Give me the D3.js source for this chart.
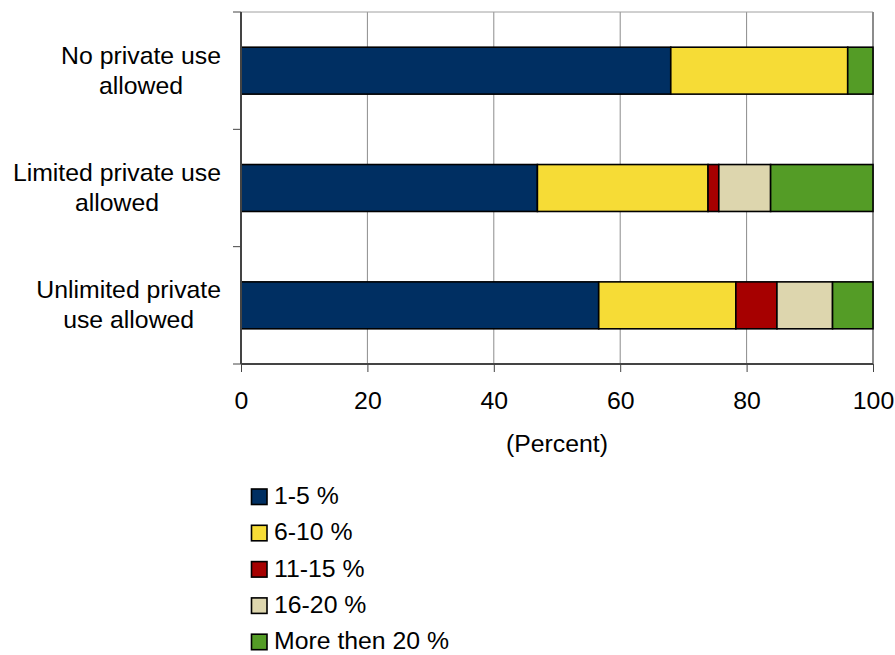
<!DOCTYPE html>
<html>
<head>
<meta charset="utf-8">
<script src="https://cdn.jsdelivr.net/npm/d3@7"></script>
<style>
  html, body { margin: 0; padding: 0; background: #fff; }
  svg { display: block; font-family: "Liberation Sans", Arial, sans-serif; }
</style>
</head>
<body>
<svg id="chart" width="895" height="655"></svg>
<script>
// ---- Data ----
const categories = ["No private use allowed", "Limited private use allowed", "Unlimited private use allowed"];
const categoryLines = [["No private use", "allowed"], ["Limited private use", "allowed"], ["Unlimited private", "use allowed"]];
const seriesNames = ["1-5 %", "6-10 %", "11-15 %", "16-20 %", "More then 20 %"];
const s1to5   = [68.0, 46.9, 56.6];
const s6to10  = [28.0, 27.0, 21.7];
const s11to15 = [0.0, 1.7, 6.5];
const s16to20 = [0.0, 8.2, 8.8];
const sOver20 = [4.0, 16.2, 6.4];
const xTicks = [0, 20, 40, 60, 80, 100];
const xTitle = "(Percent)";
const colors = ["#002f62", "#f6dc36", "#a60000", "#ddd6ae", "#549c26"];

const seriesValues = [s1to5, s6to10, s11to15, s16to20, sOver20];
const table = categories.map((c, i) => {
  const row = { category: c };
  seriesNames.forEach((s, j) => row[s] = seriesValues[j][i]);
  return row;
});

const FS = 24.8;
const svg = d3.select("#chart");
const plot = { left: 241, right: 873, top: 12, bottom: 364 };

const x = d3.scaleLinear().domain([0, 100]).range([plot.left, plot.right]);
const y = d3.scaleBand().domain(categories).range([plot.top, plot.bottom])
  .paddingInner(0.6).paddingOuter(0.3);

// gridlines
svg.append("g").selectAll("line").data(xTicks.filter(t => t > 0 && t < 100)).join("line")
  .attr("x1", d => x(d)).attr("x2", d => x(d))
  .attr("y1", plot.top).attr("y2", plot.bottom)
  .attr("stroke", "#8c8c8c").attr("stroke-width", 1);

// plot border top & right
svg.append("line").attr("x1", plot.left).attr("x2", plot.right)
  .attr("y1", plot.top).attr("y2", plot.top).attr("stroke", "#a0a0a0").attr("stroke-width", 1);
svg.append("line").attr("x1", plot.right).attr("x2", plot.right)
  .attr("y1", plot.top).attr("y2", plot.bottom).attr("stroke", "#8c8c8c").attr("stroke-width", 2);

// stacked bars
const stack = d3.stack().keys(seriesNames);
const stacked = stack(table);
svg.append("g").selectAll("g").data(stacked).join("g")
  .attr("fill", (d, i) => colors[i])
  .selectAll("rect").data(d => d.filter(v => v[1] - v[0] > 0)).join("rect")
  .attr("x", d => x(d[0]))
  .attr("width", d => x(d[1]) - x(d[0]))
  .attr("y", d => y(d.data.category))
  .attr("height", y.bandwidth())
  .attr("stroke", "#000").attr("stroke-width", 1.6);

// x axis
const xAxis = d3.axisBottom(x).tickValues(xTicks).tickSize(8).tickPadding(19).tickFormat(d3.format("d"));
const gx = svg.append("g").attr("transform", `translate(0,${plot.bottom})`).call(xAxis);
gx.select(".domain").attr("stroke", "#444").attr("stroke-width", 2).attr("d", `M${plot.left},0H${plot.right}`);
gx.selectAll(".tick line").attr("stroke", "#444").attr("stroke-width", 1);
gx.selectAll(".tick text").attr("font-size", FS).attr("fill", "#000")
  .attr("font-family", '"Liberation Sans", Arial, sans-serif');

// y axis line and boundary ticks
const gy = svg.append("g");
gy.append("line").attr("x1", plot.left).attr("x2", plot.left)
  .attr("y1", plot.top).attr("y2", plot.bottom).attr("stroke", "#444").attr("stroke-width", 2);
const boundaries = d3.range(categories.length + 1).map(i => plot.top + i * y.step());
gy.selectAll("line.tk").data(boundaries).join("line").attr("class", "tk")
  .attr("x1", plot.left - 8).attr("x2", plot.left)
  .attr("y1", d => d).attr("y2", d => d)
  .attr("stroke", "#444").attr("stroke-width", 1);

// category labels
const labelRight = plot.left - 20;
categories.forEach((c, i) => {
  const cy = y(c) + y.bandwidth() / 2;
  const lines = categoryLines[i];
  const g = svg.append("g");
  const texts = lines.map((ln, k) => g.append("text")
    .attr("y", cy - 7 + k * 30)
    .attr("font-size", FS).attr("fill", "#000")
    .attr("text-anchor", "middle").text(ln));
  const maxW = d3.max(texts, t => t.node().getComputedTextLength());
  texts.forEach(t => t.attr("x", labelRight - maxW / 2));
});

// x title
svg.append("text").attr("x", (plot.left + plot.right) / 2).attr("y", 452)
  .attr("text-anchor", "middle").attr("font-size", FS).attr("fill", "#000").text(xTitle);

// legend
const lg = svg.append("g");
seriesNames.forEach((s, i) => {
  const base = 504 + i * 36.3;
  lg.append("rect").attr("x", 251.5).attr("y", base - 15).attr("width", 15.5).attr("height", 15.5)
    .attr("fill", colors[i]).attr("stroke", "#000").attr("stroke-width", 1.6);
  lg.append("text").attr("x", 274).attr("y", base).attr("font-size", FS).attr("fill", "#000").text(s);
});
</script>
</body>
</html>
